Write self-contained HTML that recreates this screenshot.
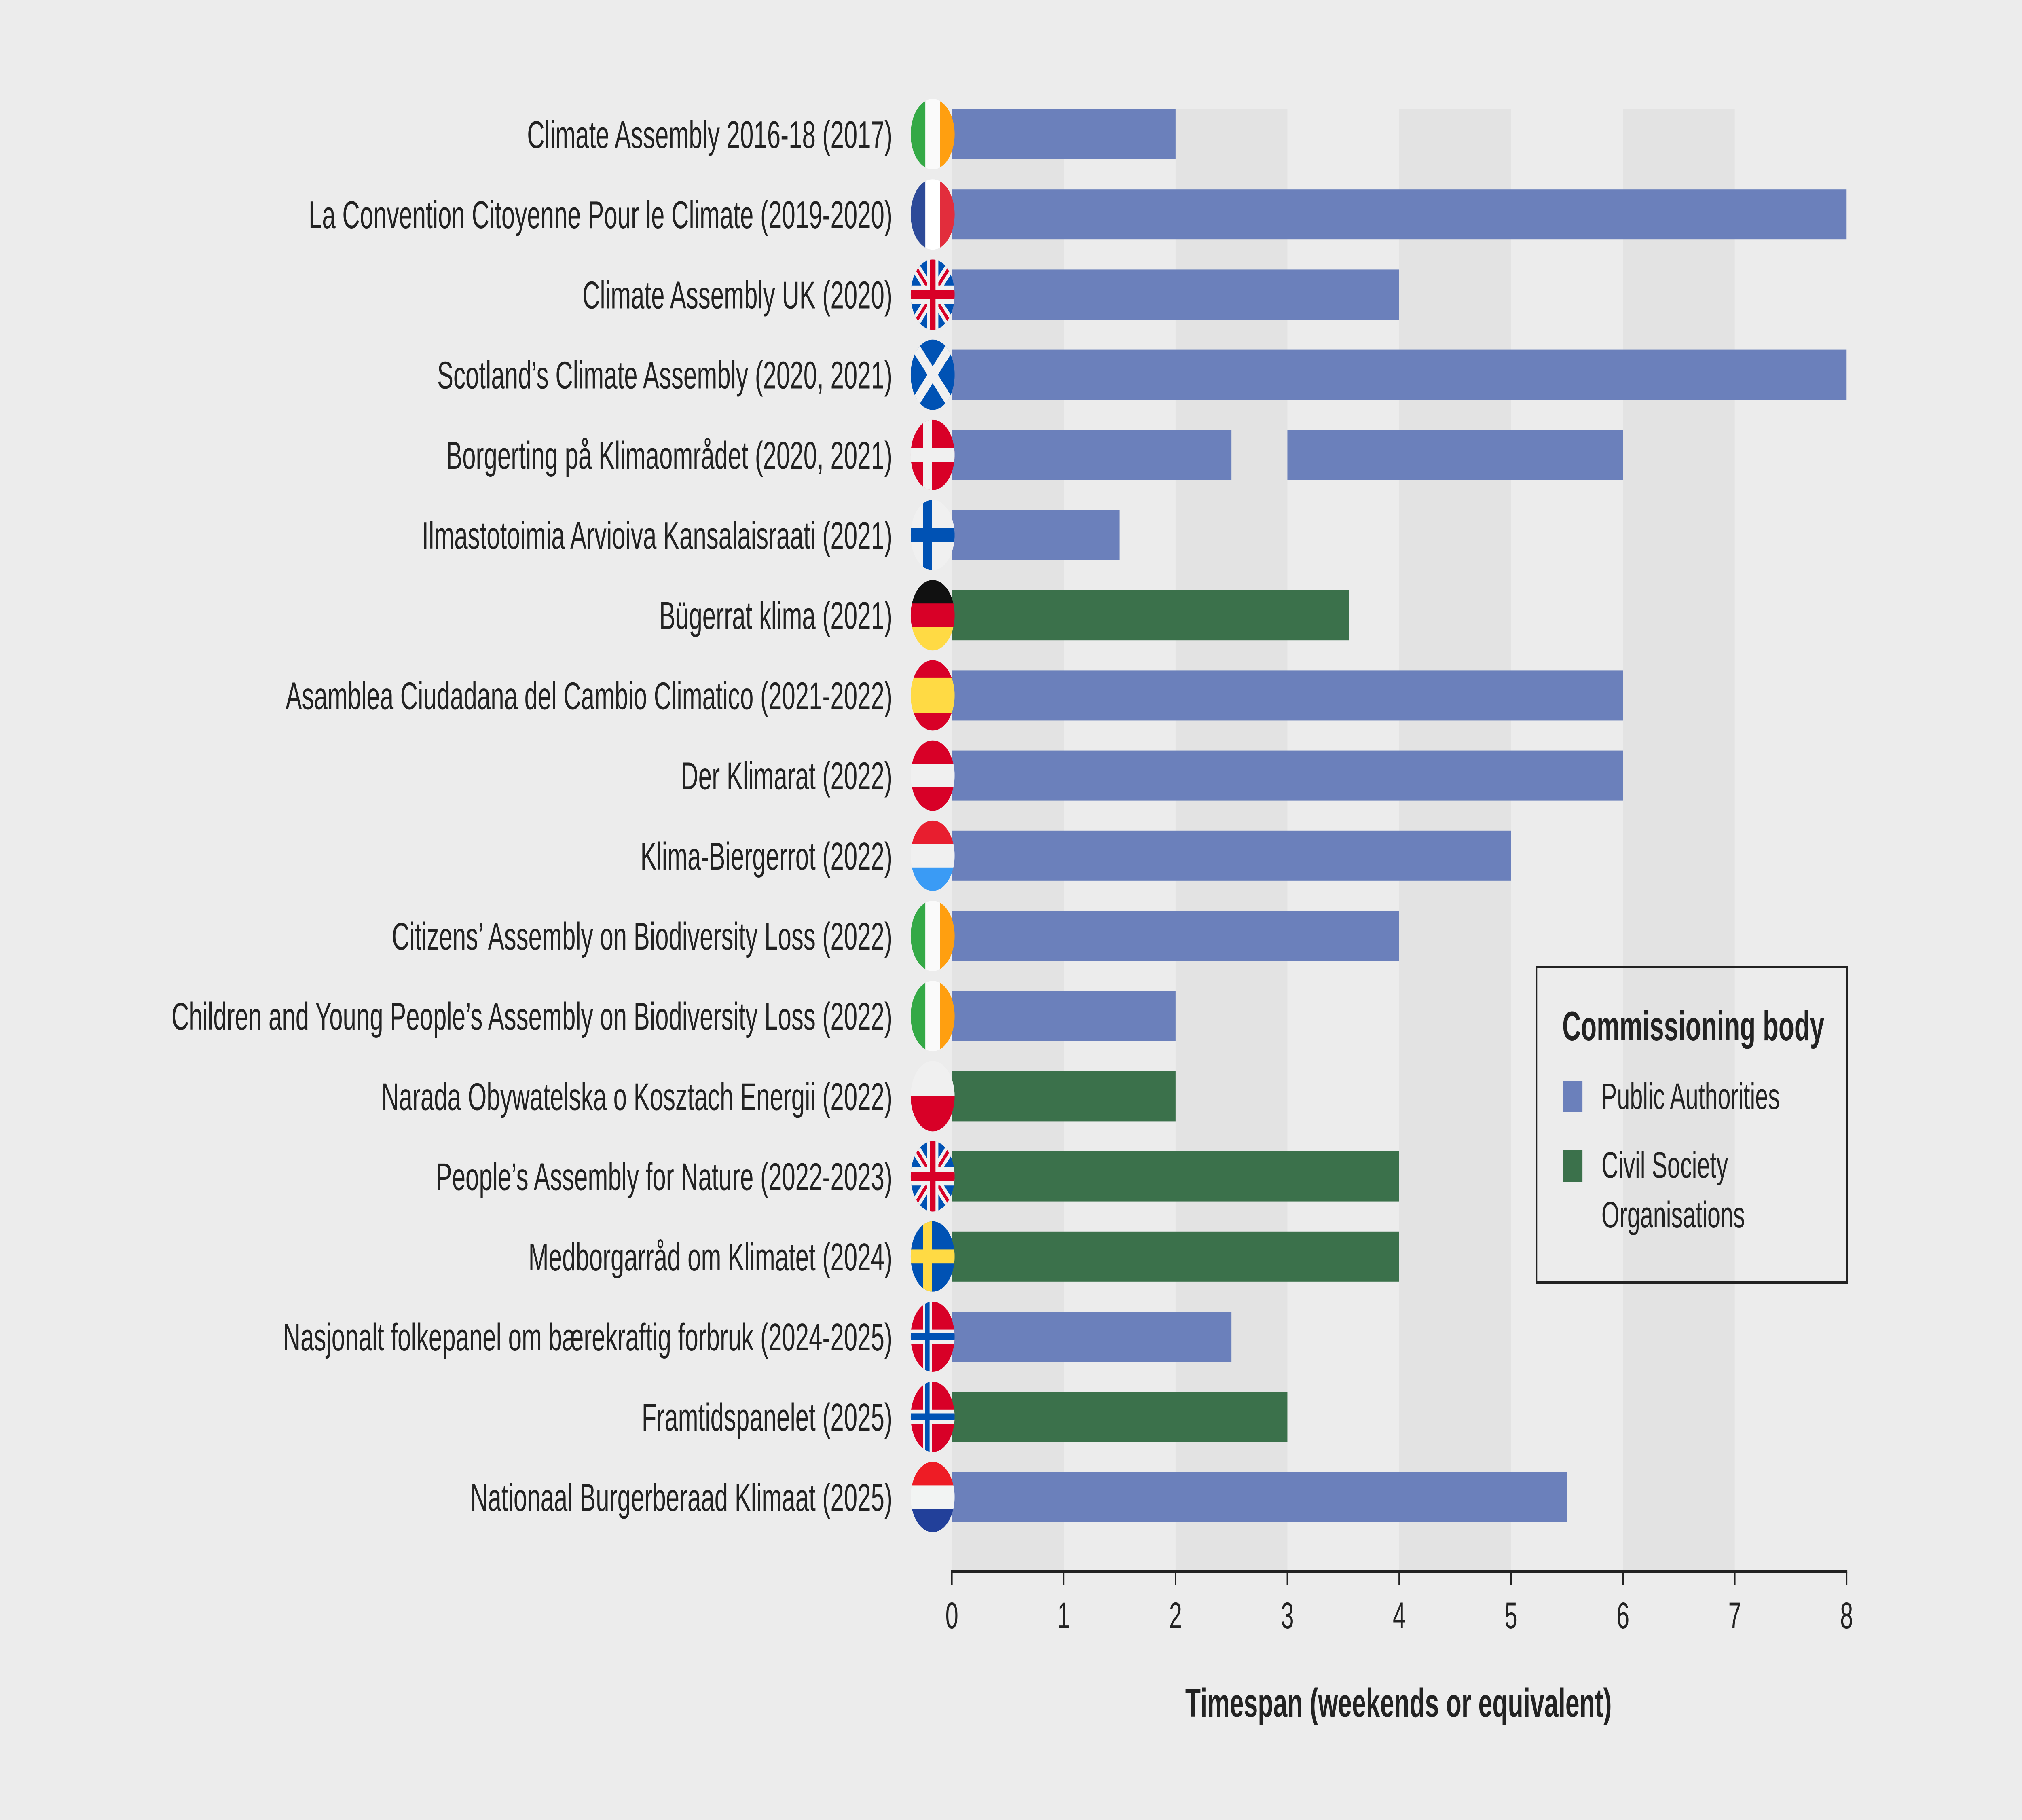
<!DOCTYPE html>
<html><head><meta charset="utf-8"><style>
html,body{margin:0;padding:0;background:#ececec;width:100vw;height:100vh;overflow:hidden;}
svg{display:block;font-family:"Liberation Sans",sans-serif;width:100vw;height:100vh;}
</style></head><body>
<svg id="chart" viewBox="0 0 8000 4500" preserveAspectRatio="none" xmlns="http://www.w3.org/2000/svg">
<rect width="8000" height="4500" fill="#ececec"/>
<g id="bands"></g><g id="bars"></g><g id="labels"></g><g id="flags"></g><g id="axis"></g>
<text x="5533" y="4245" text-anchor="middle" font-size="100" font-weight="bold" fill="#222">Timespan (weekends or equivalent)</text>
<g>
<rect x="6079" y="2391" width="1229" height="780" fill="none" stroke="#222" stroke-width="6"/>
<text x="6181" y="2572" font-size="102" font-weight="bold" fill="#222">Commissioning body</text>
<rect x="6183" y="2672" width="78" height="78" fill="#6b80bb"/>
<text x="6336" y="2742" font-size="92" fill="#222">Public Authorities</text>
<rect x="6183" y="2844" width="78" height="78" fill="#3b714b"/>
<text x="6336" y="2912" font-size="92" fill="#222">Civil Society</text>
<text x="6336" y="3035" font-size="92" fill="#222">Organisations</text>
</g>
</svg>
<script>
const categories = ["Climate Assembly 2016-18 (2017)","La Convention Citoyenne Pour le Climate (2019-2020)","Climate Assembly UK (2020)","Scotland’s Climate Assembly (2020, 2021)","Borgerting på Klimaområdet (2020, 2021)","Ilmastotoimia Arvioiva Kansalaisraati (2021)","Bügerrat klima (2021)","Asamblea Ciudadana del Cambio Climatico (2021-2022)","Der Klimarat (2022)","Klima-Biergerrot (2022)","Citizens’ Assembly on Biodiversity Loss (2022)","Children and Young People’s Assembly on Biodiversity Loss (2022)","Narada Obywatelska o Kosztach Energii (2022)","People’s Assembly for Nature (2022-2023)","Medborgarråd om Klimatet (2024)","Nasjonalt folkepanel om bærekraftig forbruk (2024-2025)","Framtidspanelet (2025)","Nationaal Burgerberaad Klimaat (2025)"];
const barStarts = [0,0,0,0,0,0,0,0,0,0,0,0,0,0,0,0,0,0];
const barEnds = [2,8,4,8,2.5,1.5,3.55,6,6,5,4,2,2,4,4,2.5,3,5.5];
const extraSegStart = [null,null,null,null,3,null,null,null,null,null,null,null,null,null,null,null,null,null];
const extraSegEnd = [null,null,null,null,6,null,null,null,null,null,null,null,null,null,null,null,null,null];
const bodyType = ["P","P","P","P","P","P","C","P","P","P","P","P","C","C","C","P","C","P"];
const flagCodes = ["ie","fr","uk","sc","dk","fi","de","es","at","lu","ie","ie","pl","uk","se","no","no","nl"];
const ticks = [0,1,2,3,4,5,6,7,8];

const NS="http://www.w3.org/2000/svg";
const X0=3766,XU=442.5,Y0=332,YS=198.2,BH=124,TOP=270,BOT=3886;
const xs=v=>X0+v*XU, ys=i=>Y0+i*YS;
function mk(t,a,p){const e=document.createElementNS(NS,t);for(const k in a)e.setAttribute(k,a[k]);p.appendChild(e);return e;}
const bands=document.getElementById('bands'),bars=document.getElementById('bars'),labels=document.getElementById('labels'),flags=document.getElementById('flags'),axis=document.getElementById('axis');
for(let t=0;t<8;t+=2){const r=mk('rect',{x:xs(t),y:TOP,width:XU,height:BOT-TOP,fill:'#e3e3e3'},bands);

}
const col={P:'#6b80bb',C:'#3b714b'};
categories.forEach((c,i)=>{
 const y=ys(i);
 const b=mk('rect',{x:xs(barStarts[i]),y:y-BH/2,width:xs(barEnds[i])-xs(barStarts[i]),height:BH,fill:col[bodyType[i]]},bars);
 
 
 if(extraSegStart[i]!==null){const b2=mk('rect',{x:xs(extraSegStart[i]),y:y-BH/2,width:xs(extraSegEnd[i])-xs(extraSegStart[i]),height:BH,fill:col[bodyType[i]]},bars);
 
 }
 const t=mk('text',{x:3531,y:y+34,'text-anchor':'end','font-size':96,fill:'#222'},labels);t.textContent=c;
 
 
 drawFlag(flagCodes[i],3690,y,87,i);
});
function drawFlag(code,cx,cy,r,i){
 const g=mk('g',{},flags);
 
 
 const cp=mk('clipPath',{id:'cp'+i},g);mk('circle',{cx,cy,r},cp);
 const h=mk('g',{'clip-path':`url(#cp${i})`},g);
 const x=cx-r,y=cy-r,d=2*r;
 const vs=(cs)=>cs.forEach((c,k)=>mk('rect',{x:x+k*d/3,y,width:d/3+1,height:d,fill:c},h));
 const hs=(cs)=>cs.forEach((c,k)=>mk('rect',{x,y:y+k*d/cs.length,width:d,height:d/cs.length+1,fill:c},h));
 const nordic=(bg,cr,inner)=>{mk('rect',{x,y,width:d,height:d,fill:bg},h);const cxx=x+d*0.38;
  mk('rect',{x:cxx-d*0.1,y,width:d*0.2,height:d,fill:cr},h);mk('rect',{x,y:cy-d*0.1,width:d,height:d*0.2,fill:cr},h);
  if(inner){mk('rect',{x:cxx-d*0.05,y,width:d*0.1,height:d,fill:inner},h);mk('rect',{x,y:cy-d*0.05,width:d,height:d*0.1,fill:inner},h);}};
 if(code==='ie')vs(['#34a946','#fafafa','#ff9f10']);
 else if(code==='fr')vs(['#2d4a98','#ffffff','#e22d3c']);
 else if(code==='de')hs(['#111','#d80027','#ffda44']);
 else if(code==='es'){hs(['#d80027','#ffda44','#ffda44','#d80027']);}
 else if(code==='at')hs(['#d80027','#f0f0f0','#d80027']);
 else if(code==='lu')hs(['#e81e2f','#f0f0f0','#3a9bf5']);
 else if(code==='nl')hs(['#ee1c25','#f2f4f3','#22409a']);
 else if(code==='pl')hs(['#f0f0f0','#d80027']);
 else if(code==='dk')nordic('#d80027','#f0f0f0');
 else if(code==='fi')nordic('#f0f0f0','#0052b4');
 else if(code==='se')nordic('#0052b4','#ffda44');
 else if(code==='no')nordic('#d80027','#f0f0f0','#0052b4');
 else if(code==='sc'){mk('rect',{x,y,width:d,height:d,fill:'#0052b4'},h);
  mk('path',{d:`M${x} ${y}L${x+d} ${y+d}M${x+d} ${y}L${x} ${y+d}`,stroke:'#f0f0f0','stroke-width':d*0.17},h);}
 else if(code==='uk'){mk('rect',{x,y,width:d,height:d,fill:'#0052b4'},h);
  mk('path',{d:`M${x} ${y}L${x+d} ${y+d}M${x+d} ${y}L${x} ${y+d}`,stroke:'#f0f0f0','stroke-width':d*0.18},h);
  mk('path',{d:`M${x} ${y}L${x+d} ${y+d}M${x+d} ${y}L${x} ${y+d}`,stroke:'#d80027','stroke-width':d*0.06},h);
  mk('rect',{x:cx-d*0.13,y,width:d*0.26,height:d,fill:'#f0f0f0'},h);mk('rect',{x,y:cy-d*0.13,width:d,height:d*0.26,fill:'#f0f0f0'},h);
  mk('rect',{x:cx-d*0.065,y,width:d*0.13,height:d,fill:'#d80027'},h);mk('rect',{x,y:cy-d*0.065,width:d,height:d*0.13,fill:'#d80027'},h);}
}
const al=mk('line',{x1:xs(0)-3,x2:xs(8)+3,y1:BOT,y2:BOT,stroke:'#222','stroke-width':6},axis);


ticks.forEach(t=>{
 const l=mk('line',{x1:xs(t),x2:xs(t),y1:BOT,y2:BOT+33,stroke:'#222','stroke-width':6},axis);
 
 
 const tx=mk('text',{x:xs(t),y:4026,'text-anchor':'middle','font-size':92,fill:'#222'},axis);tx.textContent=t;
 
 
});
</script>
</body></html>
